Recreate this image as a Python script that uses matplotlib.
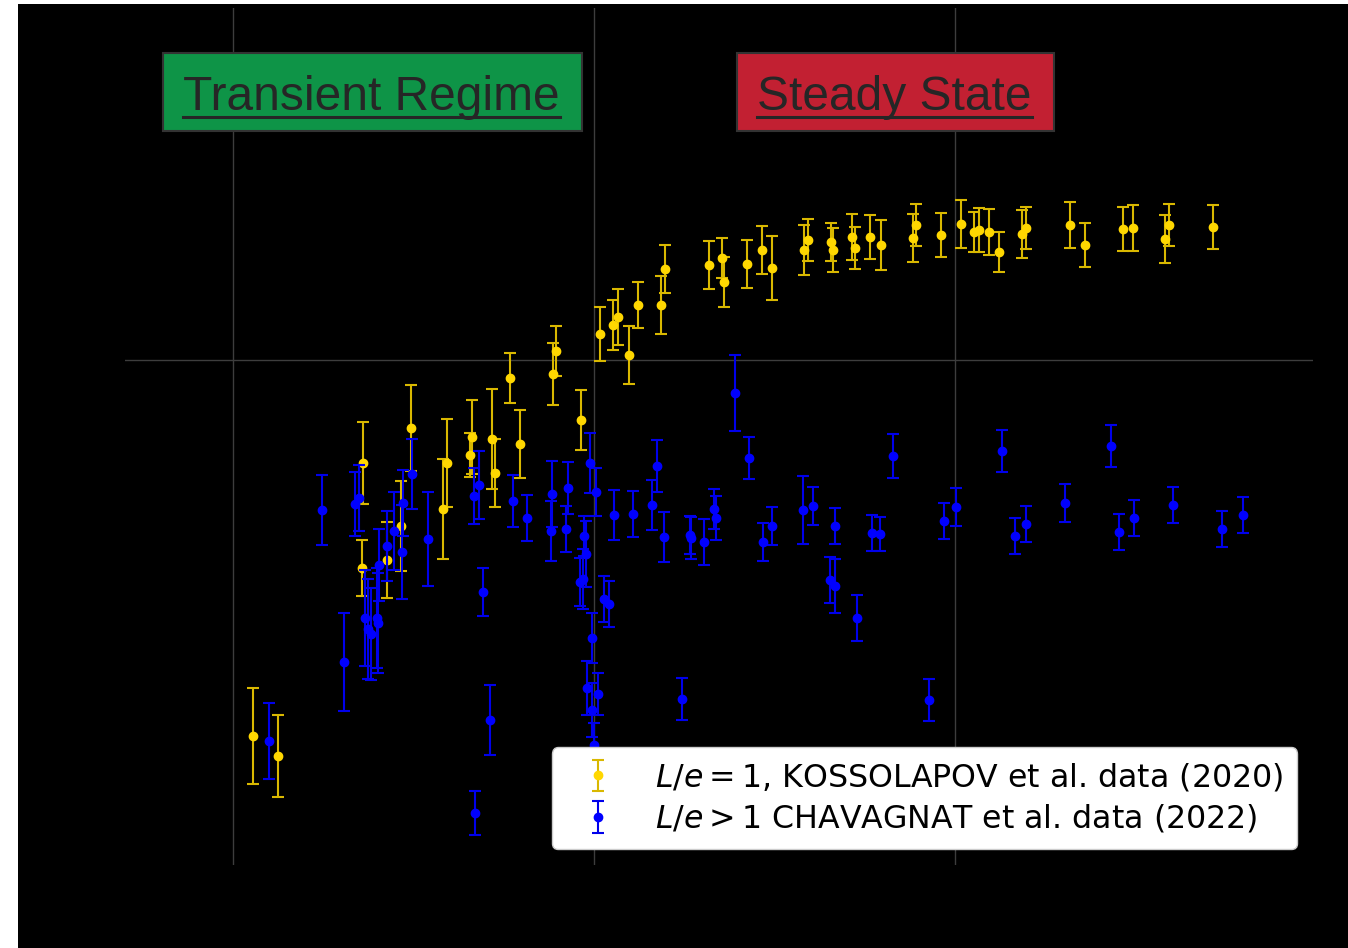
import matplotlib.pyplot as plt
from matplotlib.patches import Rectangle
from matplotlib.lines import Line2D

# L/e = 1 runs, KOSSOLAPOV et al. (2020)
kos_x = [0.55, 1.25, 3.57, 3.61, 4.26, 4.65, 4.94, 5.83, 5.94, 6.56,
         6.62, 7.17, 7.25, 7.67, 7.95, 8.86, 8.96, 9.64, 10.17, 10.53,
         10.67, 10.97, 11.23, 11.85, 11.98, 13.18, 13.55, 13.61, 14.24, 14.65,
         14.94, 15.83, 15.94, 16.56, 16.61, 17.16, 17.24, 17.66, 17.94, 18.83,
         18.93, 19.62, 20.17, 20.53, 20.67, 20.95, 21.22, 21.85, 21.96, 23.18,
         23.60, 24.65, 24.93, 25.82, 25.94, 27.16]
kos_y = [-3.76, -3.96, -2.08, -1.03, -2.00, -1.66, -0.68, -1.49, -1.03, -0.95,
         -0.77, -0.79, -1.13, -0.18, -0.84, -0.14, 0.09, -0.60, 0.26, 0.35,
         0.43, 0.05, 0.55, 0.55, 0.91, 0.95, 1.02, 0.78, 0.96, 1.10,
         0.92, 1.10, 1.20, 1.18, 1.10, 1.23, 1.12, 1.23, 1.15, 1.22,
         1.35, 1.25, 1.36, 1.28, 1.30, 1.28, 1.08, 1.26, 1.32, 1.35,
         1.15, 1.31, 1.32, 1.21, 1.35, 1.33]
kos_err = [0.48, 0.41, 0.28, 0.41, 0.38, 0.45, 0.43, 0.50, 0.44, 0.22,
           0.37, 0.50, 0.34, 0.25, 0.34, 0.31, 0.25, 0.30, 0.27, 0.25,
           0.28, 0.29, 0.23, 0.29, 0.24, 0.24, 0.20, 0.25, 0.24, 0.24,
           0.32, 0.25, 0.21, 0.19, 0.22, 0.23, 0.21, 0.22, 0.25, 0.24,
           0.21, 0.22, 0.24, 0.20, 0.22, 0.23, 0.20, 0.24, 0.21, 0.23,
           0.22, 0.22, 0.23, 0.24, 0.21, 0.22]

# L/e > 1 runs, CHAVAGNAT et al. (2022)
cha_x = [0.99, 2.46, 3.08, 3.39, 3.49, 3.65, 3.73, 3.83, 3.99, 4.01,
         4.05, 4.27, 4.47, 4.68, 4.70, 4.95, 5.40, 6.68, 6.82, 6.94,
         6.70, 7.12, 7.75, 8.16, 8.83, 8.82, 9.23, 9.27, 9.72, 9.78,
         9.61, 9.70, 9.88, 10.06, 9.95, 9.81, 10.11, 9.94, 10.00, 10.28,
         10.41, 10.55, 11.09, 11.61, 11.74, 11.95, 12.45, 12.66, 12.69, 13.04,
         13.33, 13.39, 13.91, 14.29, 14.68, 14.93, 15.80, 16.07, 16.68, 16.54,
         16.67, 17.28, 17.70, 17.93, 18.29, 19.27, 19.71, 20.04, 21.31, 21.67,
         21.96, 23.05, 24.32, 24.54, 24.96, 26.03, 27.40, 27.98]
cha_y = [-3.81, -1.50, -3.02, -1.44, -1.38, -2.58, -2.69, -2.74, -2.58, -2.63,
         -2.05, -1.86, -1.71, -1.92, -1.43, -1.14, -1.79, -1.36, -1.25, -2.32,
         -4.53, -3.60, -1.41, -1.58, -1.34, -1.71, -1.69, -1.28, -1.76, -1.94,
         -2.22, -2.19, -1.03, -1.32, -2.78, -3.28, -3.34, -3.50, -3.85, -2.39,
         -2.44, -1.55, -1.54, -1.45, -1.06, -1.77, -3.39, -1.75, -1.78, -1.82,
         -1.49, -1.58, -0.33, -0.98, -1.82, -1.66, -1.50, -1.46, -1.66, -2.20,
         -2.26, -2.58, -1.73, -1.74, -0.96, -3.40, -1.61, -1.47, -0.91, -1.76,
         -1.64, -1.43, -0.86, -1.72, -1.58, -1.45, -1.69, -1.55]
cha_err = [0.38, 0.35, 0.49, 0.32, 0.33, 0.48, 0.50, 0.46, 0.50, 0.50,
           0.36, 0.35, 0.39, 0.47, 0.33, 0.35, 0.47, 0.28, 0.34, 0.24,
           0.22, 0.35, 0.26, 0.23, 0.33, 0.30, 0.23, 0.26, 0.20, 0.33,
           0.24, 0.30, 0.30, 0.24, 0.25, 0.27, 0.21, 0.27, 0.22, 0.23,
           0.23, 0.25, 0.23, 0.25, 0.26, 0.25, 0.21, 0.19, 0.21, 0.23,
           0.20, 0.22, 0.38, 0.21, 0.19, 0.19, 0.34, 0.19, 0.18, 0.23,
           0.27, 0.23, 0.18, 0.17, 0.22, 0.21, 0.18, 0.19, 0.21, 0.18,
           0.18, 0.19, 0.21, 0.18, 0.18, 0.18, 0.18, 0.18]

labels = [r'$L/e = 1$, KOSSOLAPOV et al. data (2020)',
          r'$L/e > 1$ CHAVAGNAT et al. data (2022)']
regimes = ['Transient Regime', 'Steady State']

W, H = 1348, 948
fig = plt.figure(figsize=(W / 100, H / 100), dpi=100, facecolor='black')

# thin white margin on the left and top edges
fig.add_artist(Rectangle((0, 0), 18 / W, 1, transform=fig.transFigure,
                         fc='white', ec='none'))
fig.add_artist(Rectangle((0, 1 - 4 / H), 1, 4 / H, transform=fig.transFigure,
                         fc='white', ec='none'))

ax = fig.add_axes([125 / W, 83 / H, 1188 / W, 857 / H], facecolor='black')

ax.errorbar(kos_x, kos_y, yerr=kos_err, fmt='o', color='gold', ms=6,
            ecolor=(0.85, 0.72, 0.0), elinewidth=1.5, capsize=4.5,
            capthick=1.5, label=labels[0], zorder=3)
ax.errorbar(cha_x, cha_y, yerr=cha_err, fmt='o', color='blue', ms=6,
            ecolor=(0.0, 0.0, 0.92), elinewidth=1.5, capsize=4.5,
            capthick=1.5, label=labels[1], zorder=4)

ax.set_xlim(-2.99, 29.92)
ax.set_ylim(-5.05, 3.52)
ax.set_xticks([0, 10, 20])
ax.set_yticks([0])
ax.grid(True, color='#3d3d3d', lw=1.0, zorder=0)
ax.set_axisbelow(True)
ax.tick_params(length=0, labelbottom=False, labelleft=False)
for s in ax.spines.values():
    s.set_visible(False)

leg = ax.legend(loc='lower right', fontsize=22.8, labelspacing=0.3,
                borderpad=0.45, facecolor='white', edgecolor='0.8',
                framealpha=1, fancybox=True)
leg.set_zorder(10)

# boxed regime labels above the data
boxes = [(163, 582, '#0e9447'), (737, 1054, '#c22032')]
texts = []
for name, (x0, x1, c) in zip(regimes, boxes):
    fig.add_artist(Rectangle((x0 / W, 1 - 131 / H), (x1 - x0) / W, 78 / H,
                             transform=fig.transFigure, fc=c, ec='#333333',
                             lw=1.5, zorder=5))
    t = fig.text((x0 + 20) / W, 1 - 110 / H, name, fontsize=34.5,
                 family='Liberation Sans', color='#262626',
                 ha='left', va='baseline', zorder=6)
    texts.append(t)

fig.canvas.draw()
r = fig.canvas.get_renderer()
for t in texts:
    bb = t.get_window_extent(renderer=r)
    fig.add_artist(Line2D([bb.x0 / W, bb.x1 / W], [1 - 116.7 / H] * 2,
                          transform=fig.transFigure, color='#262626',
                          lw=2.2, zorder=6))

fig.savefig('out.png', dpi=100, facecolor='black')
